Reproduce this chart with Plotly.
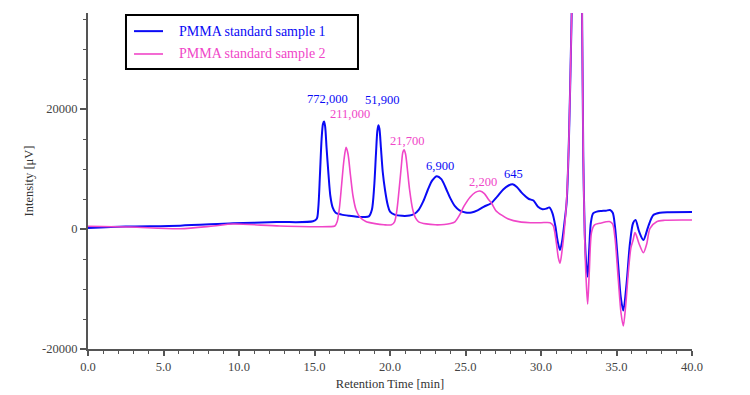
import plotly.graph_objects as go

# ---- data ----
blue_t = [0.0, 2.5, 6.1, 9.6, 12.5, 14.9, 15.15, 15.25, 15.36, 15.47, 15.56, 15.63, 15.70, 15.80, 15.93,
          16.05, 16.2, 16.4, 16.8, 17.3, 17.8, 18.3, 18.6, 18.8, 18.95, 19.07, 19.16, 19.23, 19.30,
          19.40, 19.52, 19.67, 19.85, 20.0, 20.3, 20.8, 21.3, 21.6, 21.9, 22.2, 22.5, 22.8, 23.1,
          23.4, 23.7, 24.0, 24.3, 24.6, 25.0, 25.4, 25.8, 26.2, 26.7, 27.1, 27.5, 27.85, 28.12,
          28.4, 28.7, 28.95, 29.2, 29.5, 29.8, 30.1, 30.35, 30.55, 30.75, 30.95, 31.1, 31.26,
          31.4, 31.55, 31.7, 31.85, 32.0, 32.1, 32.37, 32.65, 32.72, 32.8, 32.9, 33.0, 33.09, 33.2,
          33.3, 33.45, 33.7, 34.0, 34.3, 34.57, 34.75, 34.9, 35.12, 35.28, 35.45, 35.67, 35.89,
          36.1, 36.26, 36.5, 36.78, 37.1, 37.44, 37.88, 38.5, 40.0]
blue_v = [170, 400, 560, 940, 1150, 1280, 1700, 3500, 9000, 15000, 17500, 17900, 17200, 13500, 9000,
          5500, 3600, 2700, 2400, 2200, 2050, 2000, 2100, 3200, 7000, 12500, 16300, 17300, 16700,
          13500, 9500, 6500, 4000, 2900, 2400, 2200, 2250, 2500, 3200, 4600, 6500, 8100, 8800,
          8300, 6800, 5100, 3800, 3100, 2750, 2750, 3100, 3700, 4300, 5400, 6600, 7250, 7450,
          7000, 6100, 5500, 5000, 4750, 3700, 3300, 3400, 3600, 2700, 500, -2000, -3500,
          -2000, 1000, 4500, 15000, 32000, 45000, 80000, 45000, 36000, 12000, -1000, -6000, -7950, -3000,
          1000, 2600, 2900, 3000, 3050, 3170, 2700, 400, -6300, -11300, -13600, -9000, -2400,
          1000, 1500, -450, -1830, 400, 2330, 2720, 2800, 2830]

pink_t = [0.0, 2.8, 6.1, 8.3, 9.6, 12.7, 16.0, 16.35, 16.5, 16.65, 16.8, 16.95, 17.09, 17.22, 17.38,
          17.55, 17.75, 18.0, 18.4, 19.0, 19.6, 20.1, 20.3, 20.45, 20.6, 20.75, 20.85, 20.93, 21.03,
          21.15, 21.3, 21.5, 21.7, 21.9, 22.4, 23.0, 23.6, 24.0, 24.3, 24.6, 24.9, 25.3, 25.65,
          25.96, 26.25, 26.5, 26.73, 27.0, 27.4, 27.8, 28.17, 28.7, 29.3, 30.0, 30.6, 30.8, 31.0,
          31.15, 31.26, 31.4, 31.55, 31.7, 31.85, 32.0, 32.1, 32.37, 32.65, 32.72, 32.8, 32.9,
          33.0, 33.09, 33.2, 33.35, 33.55, 33.9, 34.57, 34.75, 34.9, 35.12, 35.3, 35.45, 35.6,
          35.78, 35.95, 36.1, 36.23, 36.5, 36.78, 37.0, 37.22, 37.66, 38.2, 40.0]
pink_v = [450, 330, 50, 500, 830, 500, 390, 500, 1200, 3500, 7500, 11500, 13600, 12500, 9000,
          5500, 3200, 2000, 1250, 900, 700, 700, 1200, 3000, 6500, 10500, 12800, 13200, 12500,
          10000, 6500, 3300, 1800, 1200, 850, 700, 750, 900, 1200, 2300, 3800, 5300, 6100,
          6330, 5900, 5000, 4280, 3100, 2300, 1700, 1400, 1150, 1050, 1050, 1050, 600, -2000,
          -4800, -5700, -3500, 0, 5000, 15000, 32000, 45000, 80000, 45000, 36000, 12000, -2000,
          -9000, -12500, -7000, -500, 700, 950, 1220, 800, -1500, -8500, -14000, -16170, -13000,
          -7300, -3200, -1830, -610, -2500, -3950, -2500, 120, 1220, 1450, 1500]

label_text = ["772,000", "211,000", "51,900", "21,700", "6,900", "2,200", "645"]
label_t = [15.83, 17.33, 19.49, 21.13, 23.28, 26.13, 28.16]
label_v = [21670, 19170, 21500, 14720, 10550, 7890, 9170]
label_series = [1, 2, 1, 2, 1, 2, 1]

series_names = ["PMMA standard sample 1", "PMMA standard sample 2"]
x_ticks = [0, 5, 10, 15, 20, 25, 30, 35, 40]
y_ticks = [-20000, 0, 20000]
y_tick_text = ["-20000", "0", "20000"]

BLUE = "#0a0af5"
PINK = "#f046c8"
FONT = "Liberation Serif, Times New Roman, Times, serif"
AX = "#555555"

fig = go.Figure()
fig.add_trace(go.Scatter(x=blue_t, y=blue_v, mode="lines", name=series_names[0],
                         line=dict(color=BLUE, width=2, shape="spline", smoothing=0.8)))
fig.add_trace(go.Scatter(x=pink_t, y=pink_v, mode="lines", name=series_names[1],
                         line=dict(color=PINK, width=1.6, shape="spline", smoothing=0.8)))

for txt, t, v, s in zip(label_text, label_t, label_v, label_series):
    fig.add_annotation(x=t, y=v, text=txt, showarrow=False, xanchor="center", yanchor="middle",
                       font=dict(family=FONT, size=12.5, color=BLUE if s == 1 else PINK))

# manual legend box
fig.add_shape(type="rect", xref="paper", yref="paper", x0=0.0629, x1=0.447, y0=0.833, y1=0.994,
              line=dict(color="black", width=2), fillcolor="white", layer="above")
for name, col, w, yy in [(series_names[0], BLUE, 2, 0.946), (series_names[1], PINK, 1.6, 0.878)]:
    fig.add_shape(type="line", xref="paper", yref="paper", x0=0.0762, x1=0.1242, y0=yy, y1=yy,
                  line=dict(color=col, width=w), layer="above")
    fig.add_annotation(xref="paper", yref="paper", x=0.1474, y=yy, text=name, showarrow=False,
                       xanchor="left", yanchor="middle", font=dict(family=FONT, size=14, color=col))

# page body has an 8px margin, so the figure is 8px smaller than the window
fig.update_layout(
    width=742, height=387,
    margin=dict(l=80, r=58, t=5, b=46, autoexpand=False),
    paper_bgcolor="white", plot_bgcolor="white",
    showlegend=False,
    font=dict(family=FONT, size=12.5, color="#333333"),
)
fig.update_xaxes(range=[0, 40], showline=True, linecolor=AX, linewidth=2, showgrid=False,
                 zeroline=False, ticks="outside", ticklen=5, tickwidth=1.5, tickcolor=AX,
                 tickmode="array", tickvals=x_ticks, ticktext=[f"{v:.1f}" for v in x_ticks],
                 minor=dict(ticks="outside", ticklen=3, tickwidth=1, tickcolor=AX,
                            tickmode="linear", tick0=0, dtick=1, showgrid=False),
                 title=dict(text="Retention Time [min]", font=dict(family=FONT, size=12.5, color="#333333"), standoff=6),
                 tickfont=dict(family=FONT, size=12.5, color="#444444"), automargin=False)
fig.update_yaxes(range=[-20000, 36000], showline=True, linecolor=AX, linewidth=2, showgrid=False,
                 zeroline=False, ticks="outside", ticklen=6, tickwidth=1.5, tickcolor=AX,
                 tickmode="array", tickvals=y_ticks, ticktext=y_tick_text,
                 minor=dict(ticks="outside", ticklen=3, tickwidth=1, tickcolor=AX,
                            tickmode="linear", tick0=0, dtick=5000, showgrid=False),
                 title=dict(text="Intensity [μV]", font=dict(family=FONT, size=12.5, color="#333333"), standoff=6),
                 tickfont=dict(family=FONT, size=12.5, color="#444444"), automargin=False)

fig.write_html("out.html")
